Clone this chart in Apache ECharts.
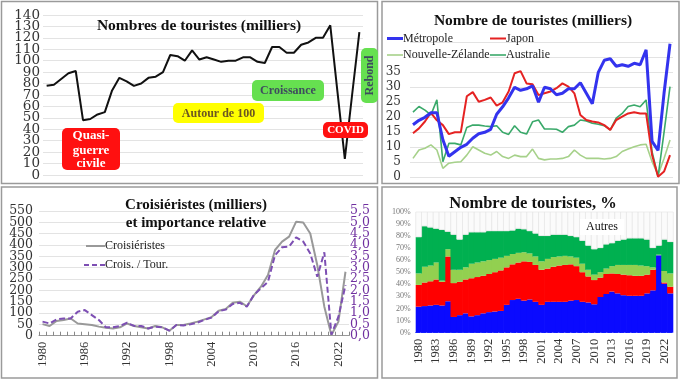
<!DOCTYPE html>
<html><head><meta charset="utf-8">
<script src="https://cdn.jsdelivr.net/npm/echarts@6/dist/echarts.min.js"></script>
<style>html,body{margin:0;padding:0;background:#fff}#c{width:684px;height:385px}</style>
</head><body><div id="c"></div>
<script>
const years = ['1980','1981','1982','1983','1984','1985','1986','1987','1988','1989','1990','1991','1992','1993','1994','1995','1996','1997','1998','1999','2000','2001','2002','2003','2004','2005','2006','2007','2008','2009','2010','2011','2012','2013','2014','2015','2016','2017','2018','2019','2020','2021','2022','2023'];
// Panel 1 : total tourists (thousands)
const touristes = [78,79,84,89,91,48,49,53,55,74, 85,82,78,80,85,86,90,105,104,100, 109,101,103,101,99,100,100,103,103,99, 98,112,112,107,107,114,116,120,120,131, 72,14,70,125];
// Panel 2 : by origin (thousands)
const metropole = [17.5,19,20,21.5,21.5,12.5,7,8.5,10,11, 13,14.5,15,16,21,23.5,26.5,30,29,29.5, 30.5,25,30,29.5,27.5,28,29.5,29.5,31.5,28, 24.5,35,39,39.5,37,37.5,37,38,37.5,42.5, 12,9,28,44.5];
const japon = [14.7,16.3,18.6,21.5,19,17.4,14.4,15,15,27, 28.4,25.2,25.8,26.6,23.9,25,28.6,34.7,35.4,31.3, 31,27.4,28,28.6,29.7,31.3,30.2,28,20.8,19.1, 18.6,18.3,17.4,15.8,19.1,20.2,21.3,21.7,21.3,21.3, 7.4,0.2,1.9,7.4];
const nzelande = [6.3,9.1,9.7,10.8,9.1,3,4.7,5,5.2,7.4, 10.2,9.1,8,7.4,8.6,6.9,6.3,7.4,6.9,6.9, 9.4,6.3,5.8,6.1,6.1,6.3,6.9,9.1,7.4,6.3, 6.3,6.3,6.1,6.3,6.9,8.6,9.4,10.2,10.8,11, 5.2,0.8,6.3,12.4];
const australie = [21.7,23.6,22.4,20.8,25.8,5.2,11.3,11.3,10.8,16.6, 17.4,17.4,17.1,16.9,17.2,15,14.3,17.2,15,14.4, 18.5,19.1,16.1,16.1,16,15,16.9,17.4,19.1,18.8, 18,17.7,17.2,15.8,19.7,21.3,23.6,24.1,23.5,25.8, 8.5,0.2,15,30.2];
// Panel 3 : cruise passengers (thousands) and ratio cruise / tourists
const croisieristes = [51,43,65,69,76,54,51,47,40,35, 32,37,54,43,37,32,43,37,22,47, 47,54,62,72,82,110,118,145,150,130, 178,216,268,378,415,437,503,499,451,311, 128,3,62,282];
const ratioCT = [0.62,0.54,0.72,0.76,0.76,1.06,1.13,0.91,0.69,0.37, 0.37,0.43,0.57,0.43,0.43,0.32,0.40,0.37,0.22,0.47, 0.45,0.50,0.58,0.70,0.80,1.08,1.15,1.40,1.45,1.28, 1.80,2.09,2.38,3.55,3.90,3.93,4.34,4.15,3.63,2.60, 3.68,0.05,0.84,2.23];
// Panel 4 : shares (%)
const pMetropole = [21.5,22,22.5,23,22.5,26,13,14.5,16,13.5, 14.5,16,17,17.5,18,23,27,28,26.5,27.5, 25.5,23,25.5,25.5,25.5,25.5,26.5,27,25.5,25, 23.5,29.5,32,34,32.5,31,30.5,30.5,30.5,32.5, 35,64,40.5,32.5];
const pJapon = [18,19.5,20,21,19.5,37,28,27.5,28,31.5, 31.5,31,31.5,32.5,33.5,31,29.5,30,32.5,31, 30.5,29,27.5,29,30,30.5,30,28,24.5,21.5, 20,16,16.5,15,16,17,17,16.5,16.5,15.5, 17,0,1,5.5];
const pNZelande = [9.5,13,13,14,1,6,11,10,10,12, 12,12,11.5,11,10.5,9.5,8.5,8,7.5,7, 7,7,8,8,7.5,7.5,6.5,7,7,5.5, 4.5,4.5,4.5,6,7.5,8,8.5,9,8.5,7, 2,0.5,9.5,11];
const pAustralie = [30,33.5,31.5,28,42,14.5,29,25,27,26, 25,24,24,23,22,20.5,19.5,20,19,18.5, 19,21,19,18.5,18,17.5,17,17,19,20, 21,20,20,19,20,21,22,22,22.5,22, 16,7.5,26,26];
const pAutres = [21,12,13,14,15,16.5,19,23,19,17, 17,17,16,16,16,16,15.5,14,14.5,16, 18,20,20,19,19,19,20,21,24,28, 31,30,27,26,24,23,22,22,22,23, 30,28,23,25];

const serif = 'Liberation Serif';
const numFont = 'DejaVu Serif';
const chart = echarts.init(document.getElementById('c'), null, {renderer:'canvas'});
const grid = [
  {left: 43, top: 15, width: 320, height: 160},
  {left: 410, top: 42.3, width: 263, height: 135},
  {left: 39, top: 211, width: 310, height: 124.7},
  {left: 415.7, top: 211.7, width: 257.6, height: 121}
];
const hiddenCat = (g) => ({type:'category', gridIndex:g, data:years, boundaryGap:true, axisLine:{show:false}, axisTick:{show:false}, axisLabel:{show:false}, splitLine:{show:false}});
const splitL = {show:true, lineStyle:{color:'#e3e3e3', width:1}};

// value axis helper: two interleaved label sets so that every label stays visible
function valAxis(g, min, max, interval, primary, keep, fmt, lbl, pos) {
  return {type:'value', gridIndex:g, position:pos||'left', min:min, max:max, interval:interval,
    axisLine:{show:false}, axisTick:{show:false},
    splitLine: primary ? splitL : {show:false},
    axisLabel:Object.assign({showMinLabel:primary ? true : null, showMaxLabel:primary ? true : null,
      formatter:(v)=> keep(v) ? fmt(v) : ''}, lbl)};
}
const isEven = (step) => (v) => Math.round(v/step) % 2 === 0;
const isOdd = (step) => (v) => Math.round(v/step) % 2 === 1;
const plain = (v) => String(v);
const comma = (v) => v.toFixed(1).replace('.', ',');

function box(x, y, w, h, fill) {
  return {type:'rect', shape:{x:x, y:y, width:w, height:h, r:5}, style:{fill:fill}, z:50};
}
function txt(x, y, s, size, color, extra) {
  return Object.assign({type:'text', x:x, y:y, style:{text:s, font:'bold '+size+'px "'+serif+'"', fill:color, align:'center', verticalAlign:'middle'}, z:51}, extra||{});
}
function legLine(x, y, color, w, dash, label) {
  return [
    {type:'line', shape:{x1:x, y1:y, x2:x+16, y2:y}, style:{stroke:color, lineWidth:w, lineDash:dash||null}, z:52},
    {type:'text', x:x+16, y:y, style:{text:label, font:'12px "'+serif+'"', fill:'#222', align:'left', verticalAlign:'middle'}, z:52}
  ];
}
const panelBorder = (x,y,w,h) => ({type:'rect', shape:{x:x,y:y,width:w,height:h}, style:{fill:null, stroke:'#9a9a9a', lineWidth:1.5}, z:40, silent:true});

const lbl1 = {fontFamily:numFont, fontSize:13.5, color:'#333', margin:3};
const lbl2 = {fontFamily:numFont, fontSize:12, color:'#333', margin:9};
const lbl3 = {fontFamily:numFont, fontSize:12.5, color:'#333', margin:6};
const lbl3r = {fontFamily:numFont, fontSize:12.5, color:'#7030a0', margin:1};

const option = {
  animation: false,
  backgroundColor: '#fff',
  title: [
    {text:'Nombres de touristes (milliers)', left:194, top:13, textAlign:'center', textStyle:{fontFamily:serif, fontWeight:'bold', fontSize:15.5, color:'#111'}},
    {text:'Nombre de touristes (milliers)', left:528, top:8, textAlign:'center', textStyle:{fontFamily:serif, fontWeight:'bold', fontSize:15.5, color:'#111'}},
    {text:'Croisiéristes (milliers)\net importance relative', left:191, top:191, textAlign:'center', textStyle:{fontFamily:serif, fontWeight:'bold', fontSize:15, color:'#111', lineHeight:18}},
    {text:'Nombre de touristes, %', left:528, top:190, textAlign:'center', textStyle:{fontFamily:serif, fontWeight:'bold', fontSize:16.5, color:'#111'}}
  ],
  grid: grid,
  xAxis: [
    hiddenCat(0),
    hiddenCat(1),
    {type:'category', gridIndex:2, data:years, boundaryGap:true,
      axisLine:{show:true, lineStyle:{color:'#999'}}, axisTick:{show:true, inside:true, length:4, interval:0, lineStyle:{color:'#888'}},
      axisLabel:{interval:5, rotate:90, fontFamily:serif, fontSize:12.5, color:'#333', margin:6}},
    {type:'category', gridIndex:3, data:years, boundaryGap:true,
      axisLine:{show:true, lineStyle:{color:'#3050ff', type:'dashed'}}, axisTick:{show:false},
      axisLabel:{interval:2, rotate:90, fontFamily:serif, fontSize:12.5, color:'#333', margin:6}}
  ],
  yAxis: [
    valAxis(0, 0, 140, 10, true, isEven(10), plain, lbl1),
    valAxis(0, 0, 140, 10, false, isOdd(10), plain, lbl1),
    valAxis(1, 0, 45, 5, true, (v)=> v <= 35, plain, lbl2),
    valAxis(2, 0, 550, 50, true, isEven(50), plain, lbl3),
    valAxis(2, 0, 550, 50, false, isOdd(50), plain, lbl3),
    valAxis(2, 0, 5.5, 0.5, false, isEven(0.5), comma, lbl3r, 'right'),
    valAxis(2, 0, 5.5, 0.5, false, isOdd(0.5), comma, lbl3r, 'right'),
    {type:'value', gridIndex:3, min:0, max:100, interval:10, axisLine:{show:false}, axisTick:{show:false}, splitLine:{show:false},
      axisLabel:{fontFamily:serif, fontSize:8, color:'#777', margin:5, showMinLabel:true, showMaxLabel:true, formatter:'{value}%'}}
  ],
  series: [
    {name:'Touristes', type:'line', xAxisIndex:0, yAxisIndex:0, data:touristes, symbol:'none', lineStyle:{color:'#111', width:2}},
    {name:'Métropole', type:'line', xAxisIndex:1, yAxisIndex:2, data:metropole, symbol:'none', lineStyle:{color:'#3333ee', width:3}, z:5},
    {name:'Japon', type:'line', xAxisIndex:1, yAxisIndex:2, data:japon, symbol:'none', lineStyle:{color:'#e52222', width:2}, z:4},
    {name:'Nouvelle-Zélande', type:'line', xAxisIndex:1, yAxisIndex:2, data:nzelande, symbol:'none', lineStyle:{color:'#a6d18a', width:1.6}, z:3},
    {name:'Australie', type:'line', xAxisIndex:1, yAxisIndex:2, data:australie, symbol:'none', lineStyle:{color:'#3aa96a', width:1.6}, z:3},
    {name:'Croisiéristes', type:'line', xAxisIndex:2, yAxisIndex:3, data:croisieristes, symbol:'none', lineStyle:{color:'#999', width:2}},
    {name:'Crois. / Tour.', type:'line', xAxisIndex:2, yAxisIndex:5, data:ratioCT, symbol:'none', lineStyle:{color:'#7d4fb3', width:2, type:[6,3]}},
    {name:'pMetropole', type:'bar', xAxisIndex:3, yAxisIndex:7, stack:'p', data:pMetropole, barWidth:'112%', itemStyle:{color:'#0a0aff'}},
    {name:'pJapon', type:'bar', xAxisIndex:3, yAxisIndex:7, stack:'p', data:pJapon, barWidth:'112%', itemStyle:{color:'#ff0000'}},
    {name:'pNZ', type:'bar', xAxisIndex:3, yAxisIndex:7, stack:'p', data:pNZelande, barWidth:'112%', itemStyle:{color:'#92d050'}},
    {name:'pAus', type:'bar', xAxisIndex:3, yAxisIndex:7, stack:'p', data:pAustralie, barWidth:'112%', itemStyle:{color:'#00b050'}},
    {name:'pAutres', type:'bar', xAxisIndex:3, yAxisIndex:7, stack:'p', data:pAutres, barWidth:'112%', itemStyle:{color:'#fbfbfb', borderColor:'#e2e2e2', borderWidth:0.6}}
  ],
  graphic: [
    panelBorder(1.5, 1.5, 376, 182),
    panelBorder(382, 1.5, 297, 182),
    panelBorder(1.5, 187, 376, 191),
    panelBorder(382, 187, 295, 191),
    box(62, 128, 58, 42, '#ff1010'),
    txt(91, 136, 'Quasi-', 13, '#fff'),
    txt(91, 150.5, 'guerre', 13, '#fff'),
    txt(91, 164, 'civile', 13, '#fff'),
    box(173, 103, 91, 20, '#ffff00'),
    txt(218.5, 113.5, 'Autour de 100', 12, '#6b5622'),
    box(252, 80, 72, 21, '#66e050'),
    txt(288, 91, 'Croissance', 12, '#3e4c5e'),
    box(323, 122, 45, 16, '#ff1010'),
    txt(345.5, 130.5, 'COVID', 11, '#fff'),
    box(361, 48, 17, 55, '#66e050'),
    txt(369.5, 75.5, 'Rebond', 12, '#3e4c5e', {rotation: Math.PI/2}),
    ...legLine(387, 38.5, '#3333ee', 3, null, 'Métropole'),
    ...legLine(490, 38.5, '#e52222', 2, null, 'Japon'),
    ...legLine(387, 55, '#a6d18a', 1.6, null, 'Nouvelle-Zélande'),
    ...legLine(490, 55, '#3aa96a', 1.6, null, 'Australie'),
    {type:'line', shape:{x1:86, y1:246, x2:105, y2:246}, style:{stroke:'#999', lineWidth:2}, z:52},
    {type:'text', x:105, y:246, style:{text:'Croisiéristes', font:'12px "'+serif+'"', fill:'#222', align:'left', verticalAlign:'middle'}, z:52},
    {type:'line', shape:{x1:84, y1:265, x2:105, y2:265}, style:{stroke:'#7d4fb3', lineWidth:2, lineDash:[5,3]}, z:52},
    {type:'text', x:105, y:265, style:{text:'Crois. / Tour.', font:'12px "'+serif+'"', fill:'#222', align:'left', verticalAlign:'middle'}, z:52},
    {type:'text', x:602, y:227, style:{text:'Autres', font:'12px "'+serif+'"', fill:'#111', align:'center', verticalAlign:'middle', backgroundColor:'#fff', padding:[2,6]}, z:52}
  ]
};
chart.setOption(option);
</script></body></html>
